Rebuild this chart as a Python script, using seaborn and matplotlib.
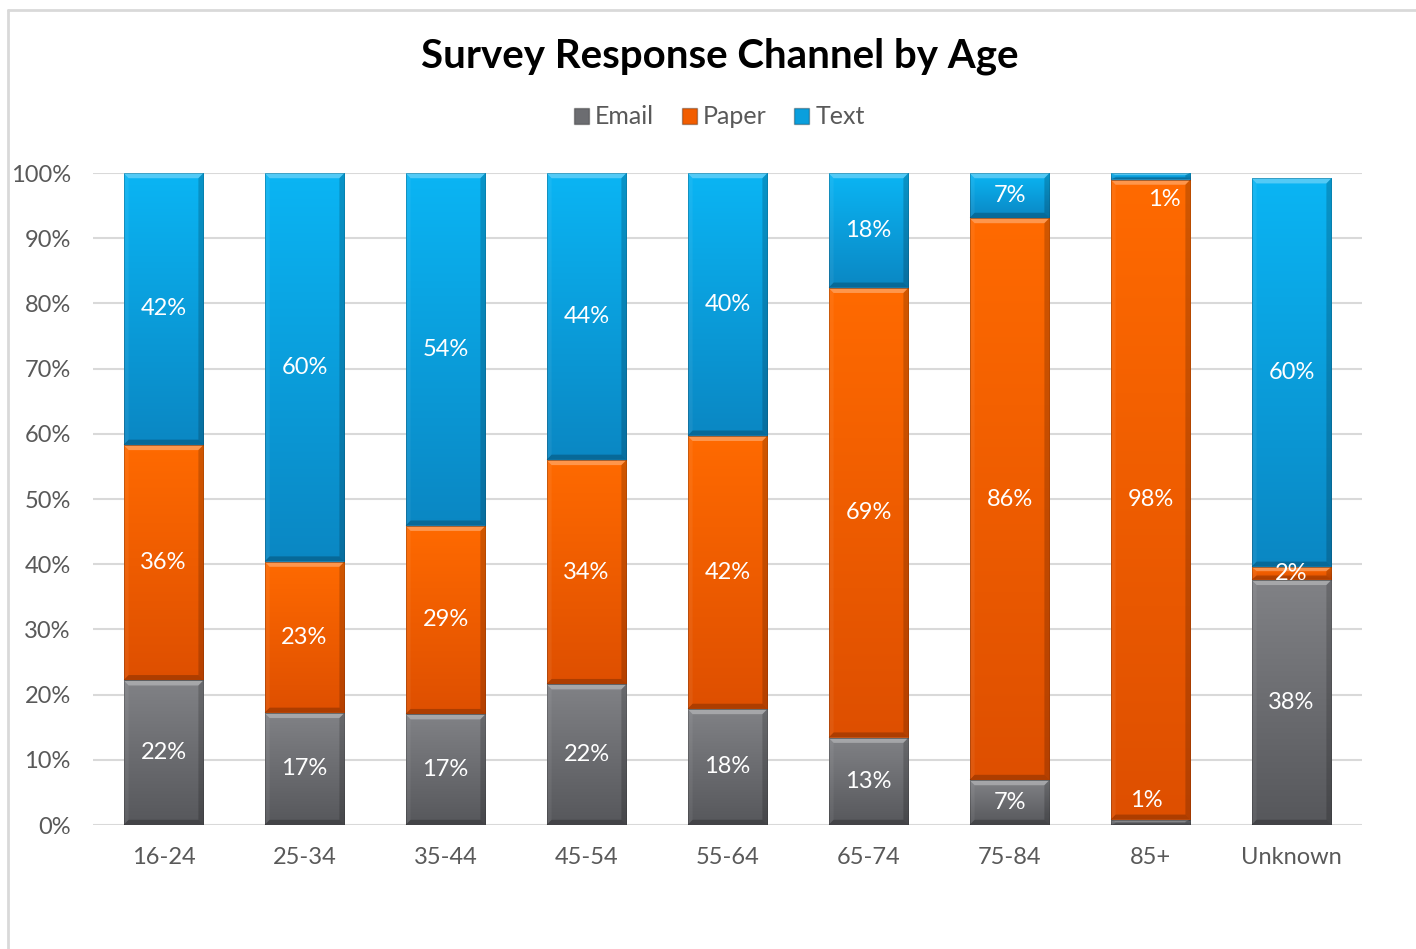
import numpy as np
import pandas as pd
import matplotlib
matplotlib.use("Agg")
import matplotlib.pyplot as plt
import seaborn as sns
from matplotlib.patches import Patch, Polygon
from matplotlib.lines import Line2D
from matplotlib.colors import LinearSegmentedColormap

# ---- data (percent of responses per age group) ----
age_groups = ["16-24", "25-34", "35-44", "45-54", "55-64", "65-74", "75-84", "85+", "Unknown"]
email = [22.2, 17.2, 17.0, 21.6, 17.8, 13.4, 6.9, 0.8, 37.6]
paper = [36.1, 23.2, 28.9, 34.4, 41.9, 69.0, 86.2, 98.2, 2.0]
text = [41.7, 59.6, 54.1, 44.0, 40.3, 17.6, 6.9, 1.0, 59.6]
series_names = ["Email", "Paper", "Text"]
y_ticks = list(range(0, 101, 10))

# ---- styling ----
sns.set_theme(style="white")
plt.rcParams["font.family"] = ["Lato", "DejaVu Sans"]

base_colors = {"Email": "#6C6D71", "Paper": "#F25D00", "Text": "#0A9FDD"}
grad_colors = {  # (bottom, top)
    "Email": ("#56575B", "#818286"),
    "Paper": ("#DE4F00", "#FF6A00"),
    "Text": ("#0A87C3", "#0BB5F4"),
}
label_nudge = {("85+", "Email"): (-0.03, 3.4), ("85+", "Text"): (0.10, -3.6)}

df = pd.DataFrame({"age": age_groups, "Email": email, "Paper": paper, "Text": text})

fig = plt.figure(figsize=(14.16, 9.49), dpi=100)
ax = fig.add_axes([93 / 1416, 1 - 825 / 949, (1362 - 93) / 1416, (825 - 173) / 949])

bar_w = 0.567
bottom = np.zeros(len(df))
segments = []
for name in series_names:
    n_before = len(ax.patches)
    sns.barplot(data=df, x="age", y=name, color=base_colors[name], saturation=1,
                width=bar_w, errorbar=None, ax=ax, zorder=2)
    new_patches = ax.patches[n_before:]
    for p, b, age, v in zip(new_patches, bottom, df["age"], df[name]):
        p.set_y(b)
        p.set_edgecolor("none")
        segments.append((p, name, age, v))
    bottom = bottom + df[name].to_numpy()

# gradient fill and bevel on each segment
grad = np.linspace(1, 0, 256).reshape(-1, 1)
bx, by = 0.036, 0.8
for p, name, age, v in segments:
    x0, w, y0, h = p.get_x(), p.get_width(), p.get_y(), p.get_height()
    x1, y1 = x0 + w, y0 + h
    cmap = LinearSegmentedColormap.from_list(name, grad_colors[name])
    im = ax.imshow(grad, extent=[x0, x1, y0, y1], aspect="auto", cmap=cmap,
                   origin="upper", zorder=2.1, interpolation="bilinear")
    im.set_clip_path(p)
    b_y = min(by, h / 3)
    top = Polygon([(x0, y1), (x1, y1), (x1 - bx, y1 - b_y), (x0 + bx, y1 - b_y)],
                  closed=True, facecolor=(1, 1, 1, 0.30), edgecolor="none", zorder=2.2)
    right = Polygon([(x1, y1), (x1, y0), (x1 - bx, y0 + b_y), (x1 - bx, y1 - b_y)],
                    closed=True, facecolor=(0, 0, 0, 0.18), edgecolor="none", zorder=2.2)
    bot = Polygon([(x0, y0), (x1, y0), (x1 - bx, y0 + b_y), (x0 + bx, y0 + b_y)],
                  closed=True, facecolor=(0, 0, 0, 0.22), edgecolor="none", zorder=2.2)
    left = Polygon([(x0, y1), (x0, y0), (x0 + bx, y0 + b_y), (x0 + bx, y1 - b_y)],
                   closed=True, facecolor=(1, 1, 1, 0.06), edgecolor="none", zorder=2.2)
    for poly in (top, right, bot, left):
        ax.add_patch(poly)
    ax.add_patch(plt.Rectangle((x0, y0), w, h, facecolor="none",
                               edgecolor=(0, 0, 0, 0.2), linewidth=0.7, zorder=2.3))
    # value label
    dx, dy = label_nudge.get((age, name), (0, 0))
    ax.text(x0 + w / 2 + dx, y0 + h / 2 + dy, f"{v:.0f}%", ha="center", va="center",
            color="white", fontsize=17, zorder=3)

ax.set_xlim(-0.5, len(age_groups) - 0.5)
ax.set_ylim(0, 100)
ax.set_yticks(y_ticks)
ax.set_yticklabels([f"{t}%" for t in y_ticks])
ax.set_xlabel("")
ax.set_ylabel("")
ax.yaxis.grid(True, color="#D9D9D9", linewidth=1.5)
ax.set_axisbelow(True)
for s in ax.spines.values():
    s.set_visible(False)
ax.tick_params(axis="both", length=0, labelsize=17, labelcolor="#595959")
ax.tick_params(axis="y", pad=16)
ax.tick_params(axis="x", pad=16)

# title and legend
fig.text(0.508, 1 - 56 / 949, "Survey Response Channel by Age", ha="center", va="center",
         fontsize=29, fontweight="bold", color="black")
handles = [Patch(facecolor=base_colors[n], edgecolor=(0, 0, 0, 0.3)) for n in series_names]
fig.legend(handles, series_names, loc="center", bbox_to_anchor=(0.508, 1 - 117 / 949),
           ncol=3, frameon=False, fontsize=18, handlelength=0.6, handleheight=0.6,
           handletextpad=0.25, columnspacing=1.1, labelcolor="#595959")

# chart frame
fig.add_artist(Line2D([8 / 1416, 8 / 1416], [0, 1 - 10 / 949], transform=fig.transFigure,
                      color="#D9D9D9", linewidth=2))
fig.add_artist(Line2D([8 / 1416, 1], [1 - 10 / 949, 1 - 10 / 949], transform=fig.transFigure,
                      color="#D9D9D9", linewidth=2))

fig.savefig("out.png", dpi=100, facecolor="white")
